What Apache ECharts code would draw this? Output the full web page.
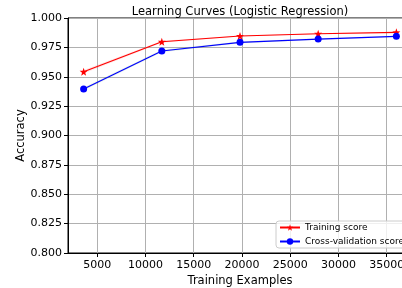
<!DOCTYPE html>
<html>
<head>
<meta charset="utf-8">
<script src="https://cdn.jsdelivr.net/npm/echarts@6/dist/echarts.min.js"></script>
<style>
  html, body { margin: 0; padding: 0; background: #fff; }
  #chart { width: 402px; height: 288px; }
</style>
</head>
<body>
<div id="chart"></div>
<script>
const trainSizes = [3600, 11700, 19800, 27900, 36000]
const trainScore = [0.9543, 0.9798, 0.9847, 0.9866, 0.9878]
const trainStd = [0.0015, 0.0008, 0.0005, 0.0004, 0.0003]
const cvScore = [0.9396, 0.9719, 0.9793, 0.9821, 0.9844]
const cvStd = [0.0012, 0.0010, 0.0008, 0.0006, 0.0005]
const xTicks = [5000, 10000, 15000, 20000, 25000, 30000, 35000]

const font = 'DejaVu Sans'
const chart = echarts.init(document.getElementById('chart'))

const pairs = (ys) => trainSizes.map((x, i) => [x, ys[i]])

// std band drawn as one polygon through the axis scales
function band(name, m, s, color) {
  const rows = trainSizes.map((x, i) => [x, m[i] - s[i], m[i] + s[i]])
  return {
    name: name, type: 'custom', data: rows, silent: true, z: 1,
    renderItem: (params, api) => {
      if (params.dataIndex !== 0) return null
      const top = rows.map(r => api.coord([r[0], r[2]]))
      const bot = rows.map(r => api.coord([r[0], r[1]])).reverse()
      return {
        type: 'polygon',
        shape: { points: top.concat(bot) },
        style: { fill: color }
      }
    }
  }
}

chart.setOption({
  animation: false,
  title: {
    text: 'Learning Curves (Logistic Regression)',
    left: 235, top: 1, textAlign: 'center',
    textStyle: { fontFamily: font, fontSize: 11.5, fontWeight: 'normal', color: '#000' }
  },
  grid: {
    left: 68, top: 18, right: -10, bottom: 35,
    outerBoundsMode: 'none', containLabel: false,
    show: true, borderColor: '#000', borderWidth: 1
  },
  legend: {
    data: ['Training score', 'Cross-validation score'],
    orient: 'vertical',
    left: 276, top: 221,
    itemWidth: 20, itemHeight: 8, itemGap: 5,
    padding: [2, 6, 2, 3],
    backgroundColor: 'rgba(255,255,255,0.8)',
    borderColor: '#ccc', borderWidth: 1, borderRadius: 3,
    textStyle: { fontFamily: font, fontSize: 9, color: '#000' }
  },
  xAxis: {
    type: 'value', min: 1980, max: 37620,
    name: 'Training Examples', nameLocation: 'middle', nameGap: 22, nameMoveOverlap: false,
    nameTextStyle: { fontFamily: font, fontSize: 11.5, color: '#000' },
    axisLine: { lineStyle: { color: '#000', width: 1 } },
    axisTick: { show: true, length: 4, customValues: xTicks, lineStyle: { color: '#000' } },
    axisLabel: { customValues: xTicks, margin: 7, fontFamily: font, fontSize: 11, color: '#000', formatter: v => String(v) },
    splitLine: { show: true, lineStyle: { color: '#b0b0b0', width: 1 } }
  },
  yAxis: {
    type: 'value', min: 0.8, max: 1.0, interval: 0.025,
    name: 'Accuracy', nameLocation: 'middle', nameGap: 41, nameRotate: 90, nameMoveOverlap: false,
    nameTextStyle: { fontFamily: font, fontSize: 11.5, color: '#000' },
    axisLine: { show: true, lineStyle: { color: '#000', width: 1 } },
    axisTick: { show: true, length: 4, lineStyle: { color: '#000' } },
    axisLabel: { margin: 6, fontFamily: font, fontSize: 11, color: '#000', formatter: v => v.toFixed(3) },
    splitLine: { show: true, lineStyle: { color: '#b0b0b0', width: 1 } }
  },
  series: [
    band('trainBand', trainScore, trainStd, 'rgba(255,0,0,0.1)'),
    band('cvBand', cvScore, cvStd, 'rgba(0,128,0,0.1)'),
    {
      name: 'Training score', type: 'line', data: pairs(trainScore),
      symbol: 'path://M0,-10 L2.35,-3.24 L9.51,-3.09 L3.8,1.24 L5.88,8.09 L0,4 L-5.88,8.09 L-3.8,1.24 L-9.51,-3.09 L-2.35,-3.24 Z',
      symbolSize: 8, color: '#ff0000',
      lineStyle: { color: '#ff0000', width: 1.2 }, itemStyle: { color: '#ff0000' }, z: 3
    },
    {
      name: 'Cross-validation score', type: 'line', data: pairs(cvScore),
      symbol: 'circle', symbolSize: 7, color: '#0000ff',
      lineStyle: { color: '#0000ff', width: 1.2 }, itemStyle: { color: '#0000ff' }, z: 3
    }
  ]
})
</script>
</body>
</html>
